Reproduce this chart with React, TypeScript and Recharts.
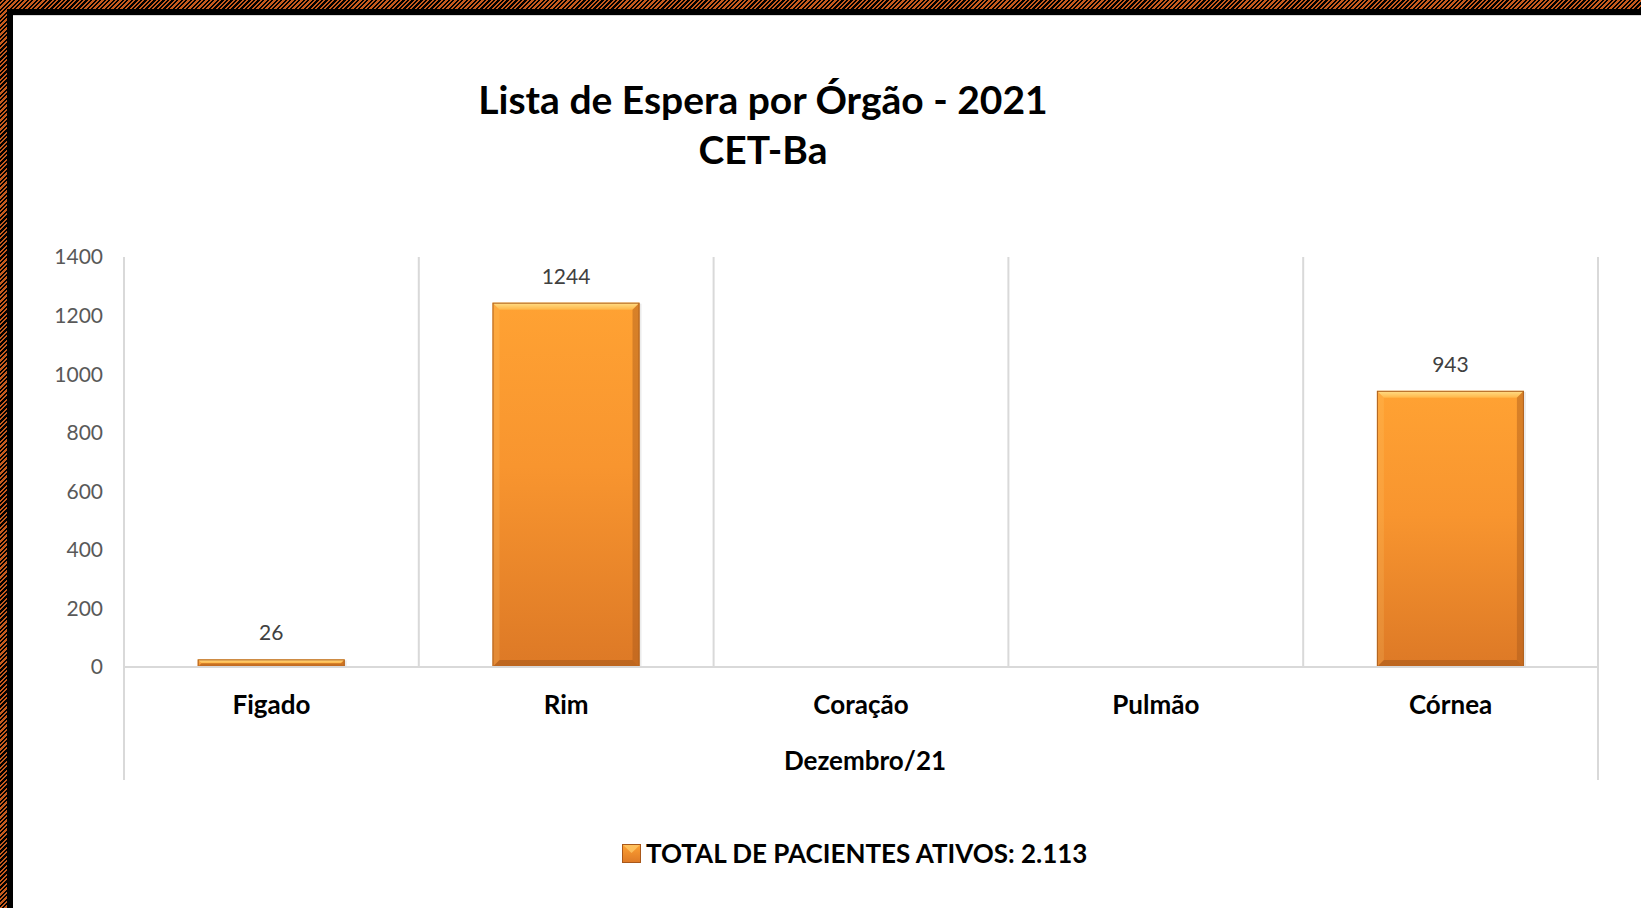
import React from 'react';
import { BarChart, Bar, XAxis, YAxis, CartesianGrid, LabelList } from 'recharts';

const categories = ['Figado', 'Rim', 'Coração', 'Pulmão', 'Córnea'];
const pacientes: (number | null)[] = [26, 1244, null, null, 943];
const yTicks = [0, 200, 400, 600, 800, 1000, 1200, 1400];
const serieNome = 'TOTAL DE PACIENTES ATIVOS: 2.113';
const grupo = 'Dezembro/21';
const titulo = ['Lista de Espera por Órgão - 2021', 'CET-Ba'];

const chartData = categories.map((orgao, i) => ({ orgao, total: pacientes[i] }));

const FONT = 'Lato, "Open Sans", sans-serif';

// barra com efeito de chanfro (bevel) como no Excel
const BevelBar = (props: any) => {
  const { x, y, width, height } = props;
  if (!height || height <= 0) return null;
  const b = Math.min(7, height / 2, width / 2);
  const r = x + width;
  const bt = y + height;
  return (
    <g>
      <rect x={x + 2} y={y + 1} width={width} height={height} fill="#000" opacity={0.08} />
      <rect x={x} y={y} width={width} height={height} fill="url(#barGrad)" />
      <polygon points={`${x},${y} ${r},${y} ${r - b},${y + b} ${x + b},${y + b}`} fill="url(#topBevel)" />
      <polygon points={`${r},${y} ${r},${bt} ${r - b},${bt - b} ${r - b},${y + b}`} fill="#a9581a" opacity={0.45} />
      <polygon points={`${x},${bt} ${r},${bt} ${r - b},${bt - b} ${x + b},${bt - b}`} fill="#8f4c16" opacity={0.4} />
      <polygon points={`${x},${y} ${x + b},${y + b} ${x + b},${bt - b} ${x},${bt}`} fill="#ffd27a" opacity={0.18} />
      <rect x={x + 0.5} y={y + 0.5} width={width - 1} height={height - 1} fill="none" stroke="#b0621f" strokeWidth={1} />
    </g>
  );
};

const renderLabel = (props: any) => {
  const { x, y, width, value } = props;
  if (value === null || value === undefined) return null;
  return (
    <text x={x + width / 2} y={y - 19} textAnchor="middle" fill="#404040" fontSize={21} fontFamily={FONT}>
      {value}
    </text>
  );
};

export default function App() {
  return (
    <div
      style={{
        position: 'absolute',
        left: 0,
        top: 0,
        width: 1641,
        height: 908,
        overflow: 'hidden',
        background: 'repeating-linear-gradient(135deg, #000 0px, #000 1.6px, #c65a1d 1.6px, #c65a1d 3.2px)',
      }}
    >
      <div style={{ position: 'absolute', left: 7, top: 9, right: 0, bottom: 0, background: '#000' }} />
      <div style={{ position: 'absolute', left: 13, top: 15, right: 0, bottom: 0, background: '#fff', borderTop: '1px solid #d9d9d9' }} />

      <div
        style={{
          position: 'absolute',
          left: 0,
          top: 74,
          width: 1526,
          textAlign: 'center',
          fontFamily: FONT,
          fontWeight: 700,
          fontSize: 39,
          lineHeight: '50px',
          color: '#000',
        }}
      >
        <div>{titulo[0]}</div>
        <div>{titulo[1]}</div>
      </div>

      <div style={{ position: 'absolute', left: 0, top: 0 }}>
        <BarChart
          width={1641}
          height={908}
          data={chartData}
          margin={{ top: 257, right: 43, bottom: 181, left: 0 }}
          barCategoryGap="25%"
        >
          <defs>
            <linearGradient id="barGrad" x1="0" y1="0" x2="0" y2="1">
              <stop offset="0%" stopColor="#ffa233" />
              <stop offset="45%" stopColor="#f8952f" />
              <stop offset="100%" stopColor="#dd7926" />
            </linearGradient>
            <linearGradient id="topBevel" x1="0" y1="0" x2="0" y2="1">
              <stop offset="0%" stopColor="#ffe08a" />
              <stop offset="100%" stopColor="#ffb648" />
            </linearGradient>
          </defs>
          <CartesianGrid
            horizontal={false}
            stroke="#d9d9d9"
            strokeWidth={2}
            verticalCoordinatesGenerator={({ offset }: any) =>
              Array.from({ length: categories.length + 1 }, (_, i) => offset.left + (i * offset.width) / categories.length)
            }
          />
          <XAxis
            dataKey="orgao"
            axisLine={{ stroke: '#d9d9d9', strokeWidth: 2 }}
            tickLine={false}
            tickSize={0}
            tickMargin={29}
            height={60}
            tick={{ fill: '#000', fontSize: 26, fontWeight: 700, fontFamily: FONT }}
            interval={0}
          />
          <YAxis
            width={124}
            domain={[0, 1400]}
            ticks={yTicks}
            axisLine={false}
            tickLine={false}
            tickSize={0}
            tickMargin={21}
            tick={{ fill: '#595959', fontSize: 21, fontFamily: FONT }}
          />
          <Bar dataKey="total" name={serieNome} shape={<BevelBar />} isAnimationActive={false}>
            <LabelList dataKey="total" content={renderLabel} />
          </Bar>
        </BarChart>
      </div>

      {/* linhas externas do eixo de categorias em dois níveis */}
      <div style={{ position: 'absolute', left: 123, top: 667, width: 2, height: 113, background: '#d9d9d9' }} />
      <div style={{ position: 'absolute', left: 1597, top: 667, width: 2, height: 113, background: '#d9d9d9' }} />

      <div
        style={{
          position: 'absolute',
          left: 128,
          width: 1474,
          top: 743,
          textAlign: 'center',
          fontFamily: FONT,
          fontWeight: 700,
          fontSize: 26,
          lineHeight: '34px',
          color: '#000',
        }}
      >
        {grupo}
      </div>

      <div
        style={{
          position: 'absolute',
          left: 622,
          top: 836,
          display: 'flex',
          alignItems: 'center',
          fontFamily: FONT,
          fontWeight: 700,
          fontSize: 26,
          lineHeight: '34px',
          color: '#000',
          whiteSpace: 'nowrap',
        }}
      >
        <svg width={19} height={19} style={{ marginRight: 5 }}>
          <defs>
            <linearGradient id="legGrad" x1="0" y1="0" x2="0" y2="1">
              <stop offset="0%" stopColor="#ffa233" />
              <stop offset="100%" stopColor="#dd7926" />
            </linearGradient>
          </defs>
          <rect x={0} y={0} width={19} height={19} fill="url(#legGrad)" />
          <polygon points="0,0 19,0 9.5,9 " fill="#ffcf6e" opacity={0.7} />
          <rect x={0.5} y={0.5} width={18} height={18} fill="none" stroke="#a9581a" />
        </svg>
        <span>{serieNome}</span>
      </div>
    </div>
  );
}
